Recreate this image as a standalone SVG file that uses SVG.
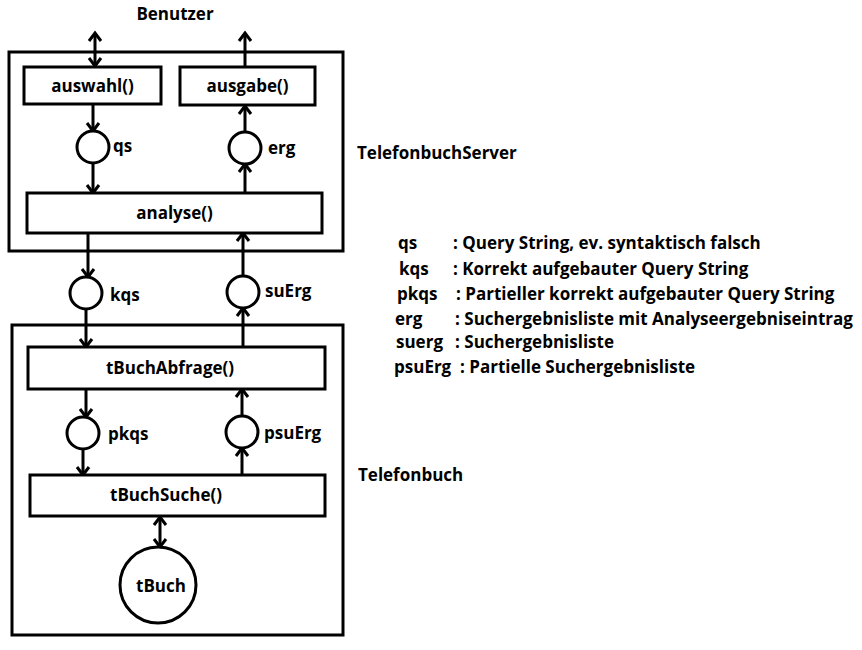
<svg xmlns="http://www.w3.org/2000/svg" width="862" height="650" viewBox="0 0 862 650">
<defs>
<marker id="ah" markerUnits="userSpaceOnUse" markerWidth="20" markerHeight="20" viewBox="-10 -10 20 20" refX="0" refY="0" orient="auto-start-reverse" overflow="visible">
<path d="M-8,-6 L0,0 L-8,6" fill="none" stroke="#000" stroke-width="3"/>
</marker>
</defs>
<style>
.b{fill:#fff;stroke:#000;stroke-width:3}
.c{fill:#fff;stroke:#000;stroke-width:3}
.l{fill:none;stroke:#000;stroke-width:3;marker-end:url(#ah)}
.d{fill:none;stroke:#000;stroke-width:3;marker-end:url(#ah);marker-start:url(#ah)}
text{font-family:"Open Sans","Noto Sans",sans-serif;font-weight:bold;font-size:17px;fill:#000}
.m{text-anchor:middle}
</style>
<rect width="862" height="650" fill="#fff"/>
<g id="server">
<rect x="9" y="52" width="334" height="199" fill="none" stroke="#000" stroke-width="3"/>
<text x="357" y="159">TelefonbuchServer</text>
</g>
<g id="telefonbuch">
<rect x="12" y="325" width="331" height="310" fill="none" stroke="#000" stroke-width="3"/>
<text x="358" y="481">Telefonbuch</text>
</g>
<g id="benutzer"><text class="m" x="175" y="20">Benutzer</text></g>
<g id="connectors">
<line class="d" x1="95" y1="66" x2="95" y2="33"/>
<line class="l" x1="245" y1="67" x2="245" y2="33"/>
<line class="l" x1="93" y1="104" x2="93" y2="131"/>
<line class="l" x1="93" y1="163" x2="93" y2="193"/>
<line class="l" x1="245" y1="193" x2="245" y2="164"/>
<line class="l" x1="245" y1="132" x2="245" y2="106"/>
<line class="l" x1="88" y1="233" x2="88" y2="277"/>
<line class="l" x1="243" y1="276" x2="243" y2="233"/>
<line class="l" x1="86" y1="309" x2="86" y2="347"/>
<line class="l" x1="243" y1="347" x2="243" y2="308"/>
<line class="l" x1="86" y1="389" x2="86" y2="417"/>
<line class="l" x1="83" y1="449" x2="83" y2="475"/>
<line class="l" x1="242" y1="475" x2="242" y2="448"/>
<line class="l" x1="242" y1="416" x2="242" y2="389"/>
<line class="d" x1="160" y1="517" x2="160" y2="547"/>
</g>
<g id="auswahl"><rect class="b" x="24" y="67" width="137" height="37"/><text class="m" x="92.5" y="92">auswahl()</text></g>
<g id="ausgabe"><rect class="b" x="180" y="67" width="135" height="38"/><text class="m" x="247.5" y="92">ausgabe()</text></g>
<g id="analyse"><rect class="b" x="27" y="193" width="295" height="40"/><text class="m" x="174.5" y="219">analyse()</text></g>
<g id="qs"><circle class="c" cx="93" cy="147" r="16"/><text x="113" y="152">qs</text></g>
<g id="erg"><circle class="c" cx="245" cy="148" r="16"/><text x="268" y="154">erg</text></g>
<g id="kqs"><circle class="c" cx="86" cy="293" r="16"/><text x="110" y="301">kqs</text></g>
<g id="suErg"><circle class="c" cx="243" cy="292" r="16"/><text x="265" y="297">suErg</text></g>
<g id="tBuchAbfrage"><rect class="b" x="28" y="347" width="297" height="42"/><text class="m" x="170" y="374">tBuchAbfrage()</text></g>
<g id="pkqs"><circle class="c" cx="83" cy="433" r="16"/><text x="108" y="440">pkqs</text></g>
<g id="psuErg"><circle class="c" cx="242" cy="432" r="16"/><text x="264" y="439">psuErg</text></g>
<g id="tBuchSuche"><rect class="b" x="30" y="475" width="295" height="41"/><text class="m" x="166" y="501">tBuchSuche()</text></g>
<g id="tBuch"><circle class="c" cx="158" cy="585" r="38"/><text class="m" x="161" y="592">tBuch</text></g>
<g id="legend">
<text x="398" y="249">qs</text><text x="453" y="249">: Query String, ev. syntaktisch falsch</text>
<text x="399" y="275">kqs</text><text x="453" y="275">: Korrekt aufgebauter Query String</text>
<text x="397" y="300">pkqs</text><text x="456" y="300">: Partieller korrekt aufgebauter Query String</text>
<text x="395" y="325">erg</text><text x="455" y="325">: Suchergebnisliste mit Analyseergebniseintrag</text>
<text x="396" y="348">suerg</text><text x="455" y="348">: Suchergebnisliste</text>
<text x="394" y="373">psuErg</text><text x="460" y="373">: Partielle Suchergebnisliste</text>
</g>
</svg>
